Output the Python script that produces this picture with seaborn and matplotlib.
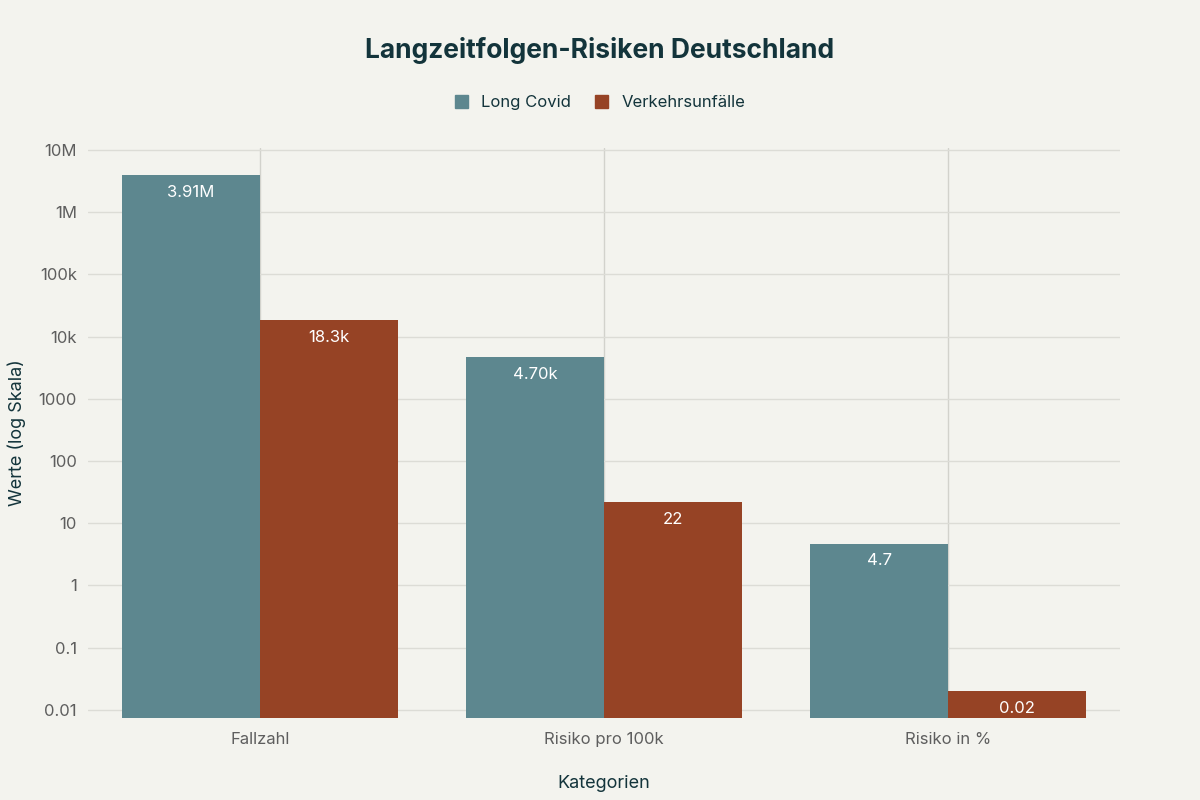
import seaborn as sns
import matplotlib.pyplot as plt
import pandas as pd
from matplotlib.ticker import FixedLocator, FixedFormatter
from matplotlib.patches import Patch

categories = ["Fallzahl", "Risiko pro 100k", "Risiko in %"]
long_covid = [3910000, 4700, 4.7]
verkehr = [18300, 22, 0.02]
lc_labels = ["3.91M", "4.70k", "4.7"]
vu_labels = ["18.3k", "22", "0.02"]
tick_vals = [0.01, 0.1, 1, 10, 100, 1000, 10000, 100000, 1e6, 1e7]
tick_text = ["0.01", "0.1", "1", "10", "100", "1000", "10k", "100k", "1M", "10M"]

bg = "#F3F3EE"
colors = ["#5D878F", "#964325"]

df = pd.DataFrame({
    "Kategorie": categories * 2,
    "Wert": long_covid + verkehr,
    "Serie": ["Long Covid"] * 3 + ["Verkehrsunfälle"] * 3,
})

sns.set_theme(style="whitegrid")
plt.rcParams["font.family"] = ["Inter", "DejaVu Sans"]

fig = plt.figure(figsize=(12, 8), dpi=100, facecolor=bg)
ax = fig.add_axes([0.0733, 0.1025, 0.86, 0.7125])
ax.set_facecolor(bg)

sns.barplot(data=df, x="Kategorie", y="Wert", hue="Serie", palette=colors,
            width=0.8, saturation=1, linewidth=0, ax=ax, legend=False, zorder=2)
ax.set_yscale("log")
ax.set_ylim(10 ** -2.13, 10 ** 7.03)
ax.set_xlim(-0.5, 2.5)

ax.yaxis.set_major_locator(FixedLocator(tick_vals))
ax.yaxis.set_major_formatter(FixedFormatter(tick_text))
ax.yaxis.set_minor_locator(FixedLocator([]))
ax.grid(True, axis="y", color="#DCDCD6", linewidth=1, zorder=0)
ax.grid(True, axis="x", color="#D2D2CC", linewidth=1, zorder=0)
ax.set_axisbelow(True)
for s in ax.spines.values():
    s.set_visible(False)
ax.tick_params(axis="both", colors="#5E5E5E", labelsize=12, length=0, pad=8)
ax.tick_params(axis="x", pad=10)

labels = lc_labels + vu_labels
for patch, lab in zip(ax.patches, labels):
    x = patch.get_x() + patch.get_width() / 2
    top = patch.get_y() + patch.get_height()
    ax.annotate(lab, (x, top), xytext=(0, -7), textcoords="offset points",
                ha="center", va="top", color="white", fontsize=12)

ax.set_xlabel("Kategorien", fontsize=13, color="#13343B", labelpad=20)
ax.set_ylabel("Werte (log Skala)", fontsize=13, color="#13343B", labelpad=9)

fig.text(0.5, 0.9375, "Langzeitfolgen-Risiken Deutschland", ha="center", va="center",
         fontsize=19, fontweight="bold", color="#13343B")

handles = [Patch(color=colors[0], label="Long Covid"),
           Patch(color=colors[1], label="Verkehrsunfälle")]
fig.legend(handles=handles, loc="center", bbox_to_anchor=(0.5, 0.872), ncol=2,
           frameon=False, fontsize=12, handlelength=0.8, handleheight=0.8,
           columnspacing=1.4, handletextpad=0.8, labelcolor="#13343B")

plt.savefig("out.png", dpi=100, facecolor=bg)
plt.close()
